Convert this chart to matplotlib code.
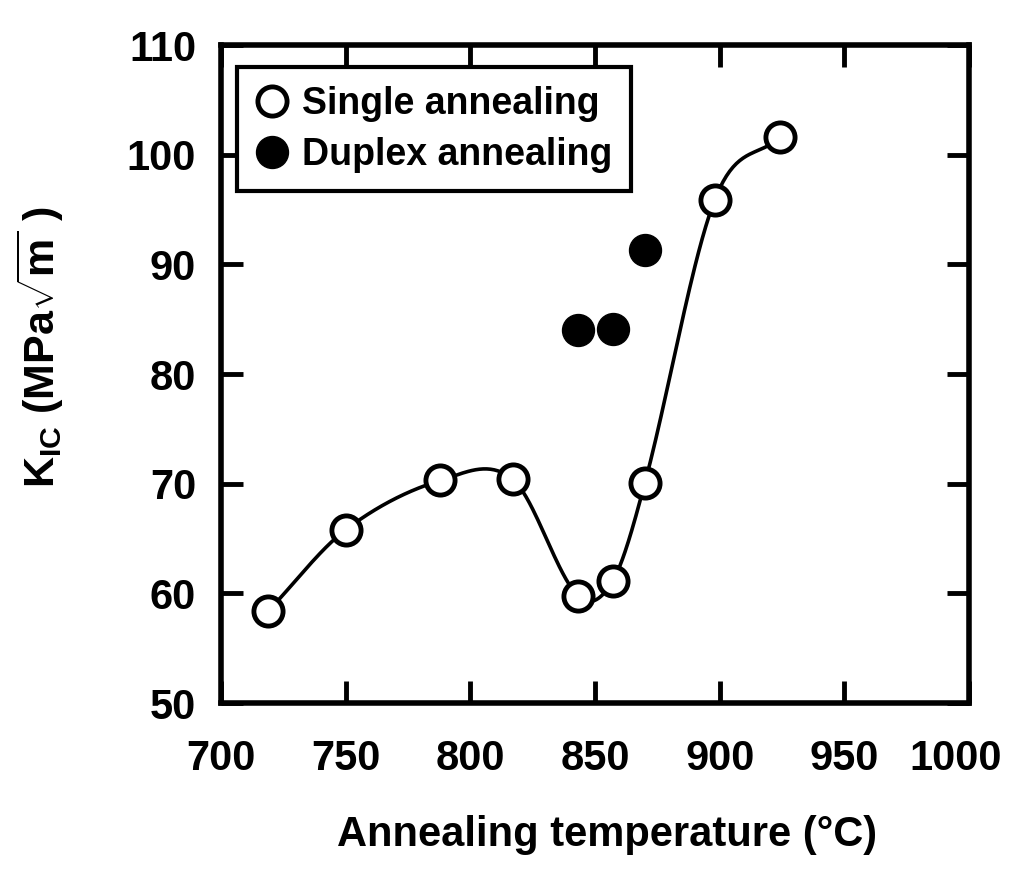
import numpy as np
import matplotlib.pyplot as plt
import matplotlib.transforms as mtransforms

plt.rcParams['font.family'] = ['Liberation Sans', 'DejaVu Sans']
plt.rcParams['font.weight'] = 'bold'
plt.rcParams['mathtext.fontset'] = 'custom'
plt.rcParams['mathtext.rm'] = 'Liberation Sans'
plt.rcParams['mathtext.bf'] = 'Liberation Sans:bold'
plt.rcParams['mathtext.it'] = 'Liberation Sans:italic'

# values
single_temp = [719, 750, 788, 817, 843, 857, 870, 898, 924]
single_kic = [58.4, 65.8, 70.3, 70.4, 59.8, 61.1, 70.1, 95.9, 101.6]
duplex_temp = [843, 857, 870]
duplex_kic = [84.0, 84.1, 91.3]

x_ticks = [700, 750, 800, 850, 900, 950, 1000]
y_ticks = [50, 60, 70, 80, 90, 100, 110]


def hermite_curve(x, y, n=40):
    # smooth guide line through the points (catmull-rom style tangents)
    x = np.asarray(x, float)
    y = np.asarray(y, float)
    m = np.zeros_like(y)
    m[0] = (y[1] - y[0]) / (x[1] - x[0])
    m[-1] = (y[-1] - y[-2]) / (x[-1] - x[-2])
    m[1:-1] = (y[2:] - y[:-2]) / (x[2:] - x[:-2])
    xs, ys = [], []
    for i in range(len(x) - 1):
        h = x[i + 1] - x[i]
        t = np.linspace(0, 1, n)
        h00 = 2 * t**3 - 3 * t**2 + 1
        h10 = t**3 - 2 * t**2 + t
        h01 = -2 * t**3 + 3 * t**2
        h11 = t**3 - t**2
        xs.append(x[i] + t * h)
        ys.append(h00 * y[i] + h10 * h * m[i] + h01 * y[i + 1] + h11 * h * m[i + 1])
    return np.concatenate(xs), np.concatenate(ys)


fig = plt.figure(figsize=(10.11, 8.69), dpi=100)
ax = fig.add_axes([0.2186, 0.191, 0.740, 0.757])

cx, cy = hermite_curve(single_temp, single_kic)
ax.plot(cx, cy, color='black', lw=2.6, zorder=2)
ax.plot(single_temp, single_kic, 'o', ms=21, mfc='white', mec='black', mew=3.5,
        zorder=3, label='Single annealing')
ax.plot(duplex_temp, duplex_kic, 'o', ms=23, mfc='black', mec='black',
        zorder=3, label='Duplex annealing')

ax.set_xlim(700, 1000)
ax.set_ylim(50, 110)
ax.set_xticks(x_ticks)
ax.set_yticks(y_ticks)
ax.tick_params(direction='in', length=16, width=3.5, top=True, right=True,
               labelsize=30)
ax.tick_params(axis='x', pad=26)
ax.tick_params(axis='y', pad=18)
for s in ax.spines.values():
    s.set_linewidth(4)

# last x label sits a bit left of its tick in the original
lab = ax.get_xticklabels()[-1]
lab.set_transform(lab.get_transform() +
                  mtransforms.ScaledTranslation(-14 / 100, 0, fig.dpi_scale_trans))

leg = ax.legend(loc='upper left', bbox_to_anchor=(0.021, 0.967), fontsize=27,
                frameon=True, fancybox=False, framealpha=1, edgecolor='black',
                handlelength=0.9, handletextpad=0.35, borderpad=0.5,
                labelspacing=0.4, borderaxespad=0)
leg.get_frame().set_linewidth(3)

fig.text(0.6, 0.039, 'Annealing temperature (°C)', fontsize=30,
         ha='center', va='center')
fig.text(0.04, 0.60, r'K$_{\mathbf{IC}}$ (MPa$\sqrt{\mathbf{m}}$ )', fontsize=31,
         rotation=90, ha='center', va='center')

fig.savefig('out.png', dpi=100)
